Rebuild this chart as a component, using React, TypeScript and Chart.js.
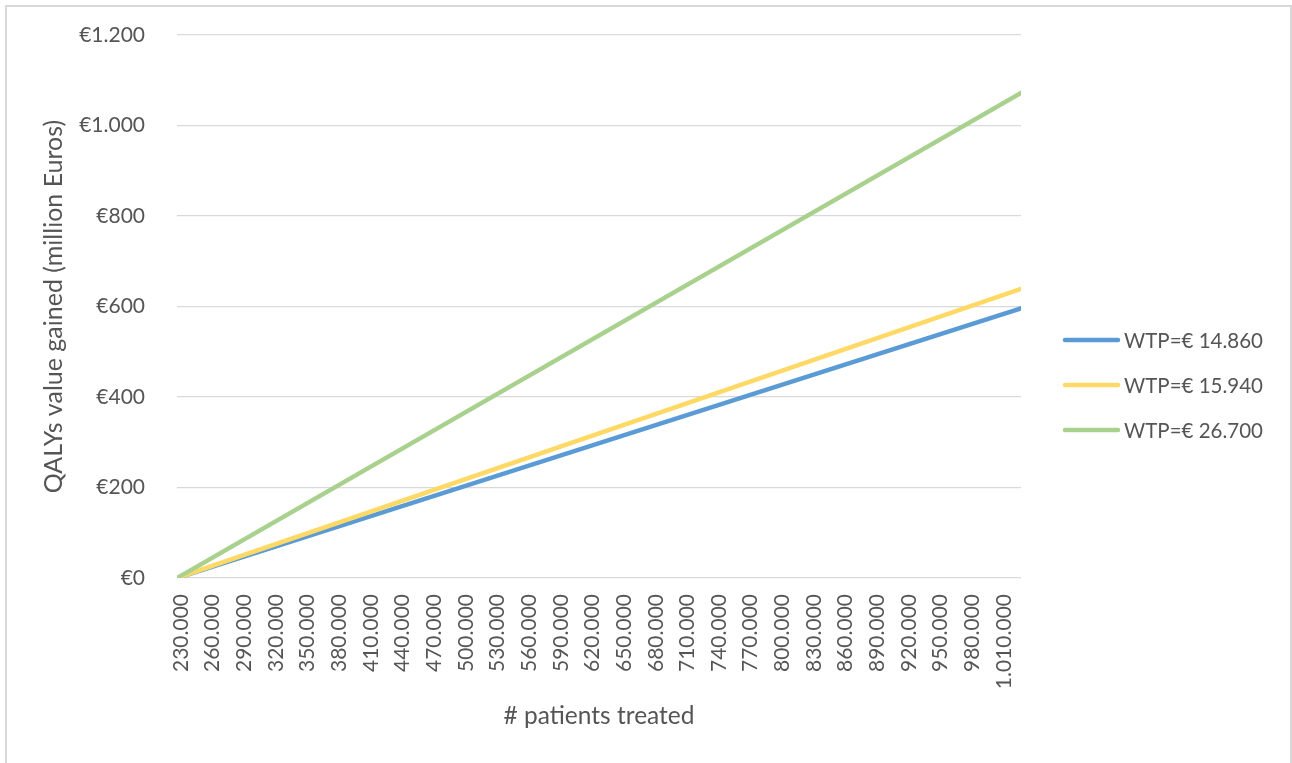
import { useEffect, useRef } from 'react';
import { Chart, registerables } from 'chart.js';

Chart.register(...registerables);

// Number of patients treated (x) and the monetary value of QALYs gained (million euros)
const patientsTreated = [230000, 1030000];
const wtpLabels = ['WTP=€ 14.860', 'WTP=€ 15.940', 'WTP=€ 26.700'];
const valueWtp14860 = [0, 596];
const valueWtp15940 = [0, 639];
const valueWtp26700 = [0, 1072];
const seriesColors = ['#5B9BD5', '#FFD966', '#A9D18E'];

const xTickValues = [
  230000, 260000, 290000, 320000, 350000, 380000, 410000, 440000, 470000,
  500000, 530000, 560000, 590000, 620000, 650000, 680000, 710000, 740000,
  770000, 800000, 830000, 860000, 890000, 920000, 950000, 980000, 1010000,
];
const yTickValues = [0, 200, 400, 600, 800, 1000, 1200];

const FONT_FAMILY = "Lato, 'Open Sans', sans-serif";
const TEXT_COLOR = '#555555';
const GRID_COLOR = '#D9D9D9';

const dotThousands = (v: number) =>
  String(Math.round(v)).replace(/\B(?=(\d{3})+(?!\d))/g, '.');

const toPoints = (xs: number[], ys: number[]) => xs.map((x, i) => ({ x, y: ys[i] }));

// Legend drawn to the right of the plot area: a short line sample followed by the label
const sideLegend = {
  id: 'sideLegend',
  afterDraw(chart: any) {
    const { ctx, chartArea } = chart;
    const datasets = chart.data.datasets;
    const rowGap = 45;
    const midY = chart.height / 2 + 3.5;
    const x0 = chartArea.right + 42;
    const lineLen = 57;
    ctx.save();
    datasets.forEach((d: any, i: number) => {
      const y = midY + (i - (datasets.length - 1) / 2) * rowGap;
      ctx.beginPath();
      ctx.strokeStyle = d.borderColor;
      ctx.lineWidth = d.borderWidth;
      ctx.lineCap = 'round';
      ctx.moveTo(x0 + 2, y);
      ctx.lineTo(x0 + lineLen - 2, y);
      ctx.stroke();
      ctx.fillStyle = TEXT_COLOR;
      ctx.font = `20.5px ${FONT_FAMILY}`;
      ctx.textBaseline = 'middle';
      ctx.textAlign = 'left';
      ctx.fillText(d.label, x0 + lineLen + 4, y + 1);
    });
    ctx.restore();
  },
};

export default function App() {
  const canvasRef = useRef<HTMLCanvasElement | null>(null);

  useEffect(() => {
    if (!canvasRef.current) return;
    const seriesValues = [valueWtp14860, valueWtp15940, valueWtp26700];
    const chart = new Chart(canvasRef.current, {
      type: 'line',
      data: {
        datasets: seriesValues.map((vals, i) => ({
          label: wtpLabels[i],
          data: toPoints(patientsTreated, vals),
          borderColor: seriesColors[i],
          backgroundColor: seriesColors[i],
          borderWidth: 4.5,
          borderCapStyle: 'round' as const,
          borderJoinStyle: 'round' as const,
          pointRadius: 0,
          tension: 0,
          fill: false,
          order: seriesValues.length - i,
        })),
      },
      options: {
        animation: false,
        responsive: false,
        layout: { padding: { left: 0, top: 35, right: 271, bottom: 0 } },
        plugins: {
          legend: { display: false },
          tooltip: { enabled: false },
        },
        scales: {
          x: {
            type: 'linear',
            min: patientsTreated[0],
            max: patientsTreated[patientsTreated.length - 1],
            afterBuildTicks: (scale: any) => {
              scale.ticks = xTickValues.map((value) => ({ value }));
            },
            afterFit: (scale: any) => {
              scale.height = 763 - 578;
            },
            grid: { display: false, drawTicks: false },
            border: { display: false },
            ticks: {
              autoSkip: false,
              maxRotation: 90,
              minRotation: 90,
              padding: 16,
              labelOffset: 4,
              color: TEXT_COLOR,
              font: { family: FONT_FAMILY, size: 21 },
              callback: (v: any) => dotThousands(Number(v)),
            },
            title: {
              display: true,
              text: '# patients treated',
              color: TEXT_COLOR,
              font: { family: FONT_FAMILY, size: 24.5 },
              padding: { top: 0, bottom: 32 },
            },
          },
          y: {
            min: yTickValues[0],
            max: yTickValues[yTickValues.length - 1],
            afterBuildTicks: (scale: any) => {
              scale.ticks = yTickValues.map((value) => ({ value }));
            },
            afterFit: (scale: any) => {
              scale.width = 177;
            },
            grid: {
              color: GRID_COLOR,
              lineWidth: 1.3,
              drawTicks: true,
              tickLength: 30,
              tickColor: 'rgba(0,0,0,0)',
            },
            border: { display: false },
            ticks: {
              padding: 2,
              color: TEXT_COLOR,
              font: { family: FONT_FAMILY, size: 21 },
              callback: (v: any) => '€' + dotThousands(Number(v)),
            },
            title: {
              display: true,
              text: 'QALYs value gained (million Euros)',
              color: TEXT_COLOR,
              font: { family: FONT_FAMILY, size: 25 },
              padding: { top: 39, bottom: 0 },
            },
          },
        },
      },
      plugins: [sideLegend],
    });
    return () => chart.destroy();
  }, []);

  return (
    <div
      style={{
        position: 'fixed',
        left: 0,
        top: 0,
        width: 1292,
        height: 763,
        overflow: 'hidden',
        background: '#FFFFFF',
      }}
    >
      <div
        style={{
          position: 'absolute',
          left: 5,
          top: 5,
          width: 1287,
          height: 800,
          border: `2px solid ${GRID_COLOR}`,
          borderBottom: 'none',
          boxSizing: 'border-box',
        }}
      />
      <canvas
        ref={canvasRef}
        width={1292}
        height={763}
        style={{ position: 'absolute', left: 0, top: 0 }}
      />
    </div>
  );
}
